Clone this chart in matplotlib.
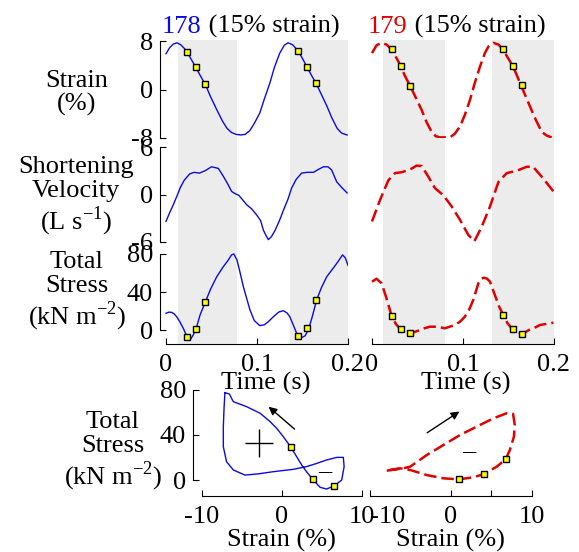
import matplotlib
matplotlib.use('Agg')
import matplotlib.pyplot as plt

plt.rcParams['font.family'] = ['Liberation Serif', 'DejaVu Serif']
plt.rcParams['mathtext.fontset'] = 'custom'
plt.rcParams['mathtext.rm'] = 'Liberation Serif'
plt.rcParams['axes.unicode_minus'] = False

FS = 19
BLUE = '#0a0ae6'
RED = '#e00000'
GRAY = '#ececec'

# ---- data: muscle 178 (blue) ----
t178_strain = [0.000, 0.004, 0.008, 0.012, 0.016, 0.020, 0.023, 0.028, 0.033, 0.038,
               0.043, 0.049, 0.056, 0.062, 0.067, 0.072, 0.077, 0.082, 0.087, 0.092,
               0.097, 0.103, 0.108, 0.114, 0.119, 0.125, 0.130, 0.134, 0.139, 0.145,
               0.150, 0.155, 0.160, 0.165, 0.171, 0.177, 0.182, 0.188, 0.193, 0.199]
strain178 = [5.9, 6.9, 7.5, 7.7, 7.4, 6.8, 6.2, 4.9, 3.6, 2.2,
             0.9, -1.2, -3.4, -5.2, -6.4, -7.1, -7.4, -7.5, -7.4, -6.8,
             -5.6, -3.9, -1.6, 1.0, 3.6, 6.0, 7.3, 7.7, 7.4, 6.4,
             5.1, 3.7, 2.3, 1.0, -0.9, -2.8, -4.6, -6.4, -7.2, -7.5]

t178_vel = [0.000, 0.004, 0.008, 0.012, 0.0154, 0.020, 0.026, 0.031, 0.0366, 0.0429,
            0.050, 0.0575, 0.063, 0.068, 0.072, 0.076, 0.080, 0.0887, 0.094, 0.0997,
            0.104, 0.107, 0.110, 0.1125, 0.116, 0.120, 0.125, 0.129, 0.134, 0.138,
            0.143, 0.149, 0.155, 0.162, 0.168, 0.173, 0.178, 0.182, 0.1876, 0.193, 0.199]
vel178 = [-3.4, -2.3, -1.3, -0.2, 0.8, 1.8, 2.6, 2.8, 2.7, 3.0,
          3.5, 3.3, 2.3, 1.3, 0.4, 0.1, -0.1, -1.3, -1.8, -2.6,
          -3.3, -4.5, -5.2, -5.7, -5.3, -4.5, -3.2, -2.0, -0.6, 0.8,
          1.9, 2.7, 2.8, 2.8, 3.2, 3.5, 3.5, 3.1, 1.6, 0.9, 0.2]

t178_stress = [0.000, 0.003, 0.0062, 0.009, 0.0117, 0.015, 0.019, 0.0234, 0.027, 0.030,
               0.033, 0.0374, 0.0432, 0.049, 0.0557, 0.063, 0.068, 0.072, 0.0745, 0.078,
               0.081, 0.085, 0.0923, 0.097, 0.103, 0.108, 0.1125, 0.118, 0.124, 0.129,
               0.133, 0.136, 0.140, 0.1436, 0.146, 0.149, 0.153, 0.157, 0.161, 0.1656,
               0.171, 0.1766, 0.1876, 0.194, 0.197, 0.200]
stress178 = [17.6, 18.8, 18.6, 17, 14, 9, 1.8, -7.7, -9.8, -5,
             1, 15.8, 29.5, 43, 56, 66.7, 73, 79, 80, 73.7,
             62, 45.6, 21, 10, 4.6, 5.5, 8.8, 14, 19, 20.3,
             18, 14, 5, -3.5, -6, -8, -6, 1.8, 15, 32,
             45, 56, 70, 79, 76, 68]

mark_t178 = [0.0227, 0.0326, 0.0432, 0.145, 0.155, 0.165]
mark_strain178 = [6.2, 3.66, 0.86, 6.4, 3.76, 1.0]
mark_stress178 = [-7.7, 1.0, 29.5, -6.0, 1.8, 32.0]

loop178_strain = [-7.1, -6.55, -6.05, -4.4, -2.7, -1.46, -0.63, 0.2, 1.16, 1.87,
                  2.5, 3.1, 3.87, 4.8, 5.6, 6.54, 7.5, 7.8, 7.7, 6.9,
                  5.6, 4.4, 3.1, 1.46, -1.04, -3.1, -4.6, -6.05, -6.9, -7.3,
                  -7.3, -7.2, -7.1]
loop178_stress = [77.6, 76.4, 69.6, 65.2, 59.3, 51.9, 45.9, 38.5, 29, 20.7,
                  13.3, 7.4, 0.6, -6.5, -8, -5.3, 0, 11.9, 20.1, 20.1,
                  17.8, 14.8, 11.9, 9.5, 7.4, 5.3, 4.4, 8.9, 16.3, 29.6,
                  47.4, 65.2, 77.6]
loopmark178_strain = [1.16, 3.87, 6.54]
loopmark178_stress = [29, 0.6, -5.3]

# ---- data: muscle 179 (red) ----
t179_strain = [0.000, 0.005, 0.0106, 0.016, 0.0216, 0.0265, 0.0315, 0.036, 0.0418, 0.048,
               0.0546, 0.060, 0.0656, 0.070, 0.0747, 0.080, 0.0857, 0.091, 0.0967, 0.102,
               0.1077, 0.113, 0.1187, 0.124, 0.128, 0.1333, 0.139, 0.144, 0.149, 0.1546,
               0.159, 0.1637, 0.1736, 0.180, 0.1865, 0.192, 0.1975]
strain179 = [6.0, 7.3, 7.7, 7.4, 6.6, 5.3, 3.9, 2.3, 0.6, -1.3,
             -3.4, -5.4, -7.0, -7.7, -7.9, -7.9, -7.9, -7.3, -6.1, -4.2,
             -1.7, 1.1, 3.8, 6.0, 7.1, 7.7, 7.4, 6.6, 5.3, 3.9,
             2.4, 0.7, -2.8, -5.0, -7.0, -7.6, -7.9]

t179_vel = [0.000, 0.0088, 0.018, 0.0253, 0.032, 0.038, 0.044, 0.049, 0.0546, 0.0619,
            0.0692, 0.0784, 0.0875, 0.0967, 0.1058, 0.1125, 0.1205, 0.1297, 0.139, 0.148,
            0.159, 0.170, 0.177, 0.1865, 0.1993]
vel179 = [-3.4, -0.7, 1.8, 2.7, 2.8, 3.0, 3.3, 3.65, 3.6, 2.25,
          0.8, -0.1, -1.5, -3.2, -5.1, -5.9, -4.1, -1.5, 1.6, 2.7,
          3.0, 3.5, 3.5, 2.25, 0.4]

t179_stress = [0.000, 0.005, 0.0106, 0.0154, 0.0216, 0.0265, 0.0315, 0.036, 0.0418, 0.047,
               0.0527, 0.058, 0.0637, 0.072, 0.080, 0.0912, 0.097, 0.102, 0.107, 0.1113,
               0.1168, 0.120, 0.123, 0.1265, 0.1297, 0.135, 0.140, 0.1443, 0.149, 0.1546,
               0.159, 0.1645, 0.169, 0.1736, 0.180, 0.1846, 0.1993]
stress179 = [50.8, 54, 49, 35, 14.7, 6, 0.7, -2, -3.5, -2,
             0, 2, 3.5, 3.5, 1.8, 5.3, 9, 14, 22, 31.6,
             49, 54, 55, 54, 50.8, 36.8, 24, 15.8, 7, 0.7,
             -2, -4.2, -2, 0.7, 3, 5.3, 7.7]

mark_t179 = [0.0216, 0.0315, 0.0418, 0.1443, 0.1546, 0.1645]
mark_strain179 = [6.6, 3.9, 0.6, 6.6, 3.9, 0.7]
mark_stress179 = [14.7, 0.7, -3.5, 15.8, 0.7, -4.2]

loop179_strain = [-7.9, -5.85, -5.0, -2.96, -0.9, 1.15, 3.2, 5.26, 6.9, 7.7,
                  7.9, 7.8, 7.3, 6.8, 5.7, 4.1, 2.8, 1.0, -0.9, -2.96,
                  -5.0, -6.25, -7.5, -7.9]
loop179_stress = [8.3, 10.4, 11.9, 22.2, 31.1, 40, 47.4, 54.8, 59.3, 58.7,
                  48.9, 38.5, 26.7, 18.7, 11.9, 5.3, 2.4, 0.6, 1.5, 4.4,
                  8.9, 10.4, 8.9, 8.3]
loopmark179_strain = [6.8, 4.1, 1.0]
loopmark179_stress = [18.7, 5.3, 0.6]

# shaded (stance) intervals in time
shade178 = [(0.0132, 0.078), (0.136, 0.2)]
shade179 = [(0.012, 0.080), (0.132, 0.2)]

W, H = 579, 552
fig = plt.figure(figsize=(W / 100, H / 100), dpi=100)


def box(x0, y0, x1, y1):
    return [x0 / W, 1 - y1 / H, (x1 - x0) / W, (y1 - y0) / H]


def fx(x):
    return x / W


def fy(y):
    return 1 - y / H


def frame(ax, yb=None, yt=None, ytl=None, xb=None, xt=None, xtl=None):
    ax.patch.set_alpha(0)
    for s in ['top', 'right']:
        ax.spines[s].set_visible(False)
    if yb is None:
        ax.spines['left'].set_visible(False)
        ax.set_yticks([])
    else:
        ax.spines['left'].set_bounds(*yb)
        ax.set_yticks(yt)
        ax.set_yticklabels(ytl)
    if xb is None:
        ax.spines['bottom'].set_visible(False)
        ax.set_xticks([])
    else:
        ax.spines['bottom'].set_bounds(*xb)
        ax.set_xticks(xt)
        ax.set_xticklabels(xtl)
    ax.tick_params(direction='in', length=4, width=0.8, labelsize=FS, pad=5)
    ax.tick_params(axis='x', pad=7)
    for s in ['left', 'bottom']:
        ax.spines[s].set_linewidth(0.8)


XL = (-0.0066, 0.2)
cols = [
    (160, 348, shade178, BLUE, '-', 1.0,
     (t178_strain, strain178), (t178_vel, vel178), (t178_stress, stress178),
     mark_t178, mark_strain178, mark_stress178, True),
    (366, 554, shade179, RED, (0, (5, 2)), 1.8,
     (t179_strain, strain179), (t179_vel, vel179), (t179_stress, stress179),
     mark_t179, mark_strain179, mark_stress179, False),
]

for (x0, x1, shade, col, ls, lw, s_d, v_d, st_d, mt, ms, mst, first) in cols:
    bg = fig.add_axes(box(x0, 40, x1, 344))
    bg.set_xlim(*XL)
    bg.axis('off')
    for a, b in shade:
        bg.axvspan(a, b, color=GRAY, lw=0)

    a1 = fig.add_axes(box(x0, 41, x1, 138))
    a1.set_xlim(*XL)
    a1.set_ylim(-8, 8)
    a1.plot(*s_d, color=col, ls=ls, lw=lw)
    a1.plot(mt, ms, 's', ms=4, mfc='yellow', mec='k', mew=1)

    a2 = fig.add_axes(box(x0, 147, x1, 242))
    a2.set_xlim(*XL)
    a2.set_ylim(-6, 6)
    a2.plot(*v_d, color=col, ls=ls, lw=lw)

    a3 = fig.add_axes(box(x0, 244, x1, 344))
    a3.set_xlim(*XL)
    a3.set_ylim(-14.7, 90.5)
    a3.plot(*st_d, color=col, ls=ls, lw=lw)
    a3.plot(mt, mst, 's', ms=4, mfc='yellow', mec='k', mew=1)

    if first:
        frame(a1, (-8, 8), [-8, 0, 8], ['-8', '0', '8'])
        frame(a2, (-6, 6), [-6, 0, 6], ['-6', '0', '6'])
        frame(a3, (0, 80), [0, 40, 80], ['0', '40', '80'],
              (0, 0.2), [0, 0.1, 0.2], ['0', '0.1', '0.2'])
    else:
        frame(a1)
        frame(a2)
        frame(a3, None, None, None,
              (0, 0.2), [0, 0.1, 0.2], ['0', '0.1', '0.2'])

# titles
t1 = fig.text(fx(162), fy(33), '178', color=BLUE, fontsize=FS, va='baseline')
plt.annotate(' (15% strain)', xy=(1, 0), xycoords=t1, va='bottom', fontsize=FS,
             annotation_clip=False)
t2 = fig.text(fx(368), fy(33), '179', color=RED, fontsize=FS, va='baseline')
plt.annotate(' (15% strain)', xy=(1, 0), xycoords=t2, va='bottom', fontsize=FS,
             annotation_clip=False)

# row labels
fig.text(fx(77), fy(93), 'Strain\n(%)', fontsize=FS, ha='center', va='center',
         linespacing=1.1)
fig.text(fx(76), fy(197), 'Shortening\nVelocity\n(L s$^{\\mathrm{-1}}$)', fontsize=FS,
         ha='center', va='center', linespacing=1.1)
fig.text(fx(77), fy(292), 'Total\nStress\n(kN m$^{\\mathrm{-2}}$)', fontsize=FS,
         ha='center', va='center', linespacing=1.1)
fig.text(fx(113), fy(452), 'Total\nStress\n(kN m$^{\\mathrm{-2}}$)', fontsize=FS,
         ha='center', va='center', linespacing=1.1)
fig.text(fx(266), fy(383), 'Time (s)', fontsize=FS, ha='center', va='center')
fig.text(fx(466), fy(383), 'Time (s)', fontsize=FS, ha='center', va='center')

# ---- work loops ----
b1 = fig.add_axes(box(193, 385, 365, 496))
b1.set_xlim(-11.09, 10.41)
b1.set_ylim(-14.2, 84.4)
b1.plot(loop178_strain, loop178_stress, color=BLUE, lw=1.0)
b1.plot(loopmark178_strain, loopmark178_stress, 's', ms=4, mfc='yellow', mec='k', mew=1)
frame(b1, (0, 80), [0, 40, 80], ['0', '40', '80'],
      (-10, 10), [-10, 0, 10], ['-10', '0', '10'])
# net-work signs and direction arrows
b1.plot(-2.8, 32.6, marker='+', ms=20, mew=1, color='k')
b1.text(5.4, 8, '\u2013', fontsize=FS, ha='center', va='center')
b1.annotate('', xy=(-1.9, 66.7), xytext=(1.87, 43.6),
            arrowprops=dict(arrowstyle='-|>', color='k', lw=1, mutation_scale=12))

b2 = fig.add_axes(box(366, 385, 540, 496))
b2.set_xlim(-10.46, 11.02)
b2.set_ylim(-14.2, 84.4)
b2.plot(loop179_strain, loop179_stress, color=RED, ls=(0, (5, 2)), lw=1.8)
b2.plot(loopmark179_strain, loopmark179_stress, 's', ms=4, mfc='yellow', mec='k', mew=1)
frame(b2, None, None, None,
      (-10, 10), [-10, 0, 5, 10], ['-10', '0', '', '10'])
b2.get_xticklabels()[0].set_horizontalalignment('left')
b2.text(2.2, 26, '\u2013', fontsize=FS, ha='center', va='center')
b2.annotate('', xy=(1.36, 62.2), xytext=(-3.2, 40.6),
            arrowprops=dict(arrowstyle='-|>', color='k', lw=1, mutation_scale=12))

fig.text(fx(281), fy(540), 'Strain (%)', fontsize=FS, ha='center', va='center')
fig.text(fx(450), fy(540), 'Strain (%)', fontsize=FS, ha='center', va='center')

fig.savefig('out.png', dpi=100)
